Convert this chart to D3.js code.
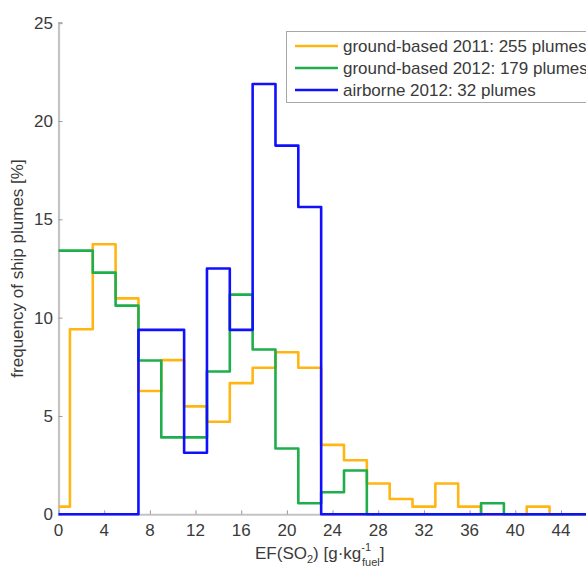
<!DOCTYPE html>
<html>
<head>
<meta charset="utf-8">
<script src="https://cdn.jsdelivr.net/npm/d3@7"></script>
<style>
  html, body { margin: 0; padding: 0; background: #fff; }
  svg { display: block; font-family: "Liberation Sans", Arial, sans-serif; }
</style>
</head>
<body>
<svg id="chart" width="586" height="569"></svg>
<script>
// Histogram bins: 2 g/kg wide, centred on even values (edges at odd values)
const binCenters = [0, 2, 4, 6, 8, 10, 12, 14, 16, 18, 20, 22, 24, 26, 28, 30, 32, 34, 36, 38, 40, 42, 44, 46, 48];

// Frequency of ship plumes [%] per bin
const ground2011 = [0.39, 9.41, 13.73, 10.98, 6.27, 7.84, 5.49, 4.71, 6.67, 7.45, 8.24, 7.45, 3.53, 2.75, 1.57, 0.78, 0.39, 1.57, 0.39, 0, 0, 0.39, 0, 0, 0];
const ground2012 = [13.41, 13.41, 12.29, 10.61, 7.82, 3.91, 3.91, 7.26, 11.17, 8.38, 3.35, 0.56, 1.12, 2.23, 0, 0, 0, 0, 0, 0.56, 0, 0, 0, 0, 0];
const airborne2012 = [0, 0, 0, 0, 9.38, 9.38, 3.13, 12.5, 9.38, 21.88, 18.75, 15.63, 0, 0, 0, 0, 0, 0, 0, 0, 0, 0, 0, 0, 0];

const seriesNames = ["ground-based 2011: 255 plumes", "ground-based 2012: 179 plumes", "airborne 2012: 32 plumes"];
const seriesColors = ["#ffb612", "#1fae4c", "#1010ff"];

const xTicks = [0, 4, 8, 12, 16, 20, 24, 28, 32, 36, 40, 44];
const yTicks = [0, 5, 10, 15, 20, 25];

const binWidth = 2;
const svg = d3.select("#chart");

const plot = { left: 58.5, top: 22.7, bottom: 514.3 };
const x = d3.scaleLinear().domain([0, 50]).range([plot.left, plot.left + 50 * 11.42]);
const y = d3.scaleLinear().domain([0, 25]).range([plot.bottom, plot.top]);

const axisGray = "#c4c4c4";
const textGray = "#3a3a3a";

// clip the histogram outlines to the plotting area
svg.append("defs").append("clipPath").attr("id", "plotClip")
  .append("rect")
  .attr("x", x(0)).attr("y", 0)
  .attr("width", 700).attr("height", plot.bottom + 3);

// y axis (ticks point inward)
const yAxis = d3.axisRight(y).tickValues(yTicks).tickSize(4).tickFormat("");
const yg = svg.append("g").attr("transform", `translate(${x(0)},0)`).call(yAxis);
yg.select(".domain").attr("stroke", axisGray).attr("stroke-width", 2.2);
yg.selectAll(".tick line").attr("stroke", "#9a9a9a").attr("stroke-width", 1);

// x axis (ticks point inward)
const xAxis = d3.axisTop(x).tickValues(xTicks).tickSize(4).tickFormat("");
const xg = svg.append("g").attr("transform", `translate(0,${y(0)})`).call(xAxis);
xg.select(".domain").attr("stroke", axisGray).attr("stroke-width", 2);
xg.selectAll(".tick line").attr("stroke", "#9a9a9a").attr("stroke-width", 1);

// tick labels
svg.append("g").selectAll("text").data(yTicks).join("text")
  .attr("x", 53).attr("y", d => y(d)).attr("dy", "0.35em")
  .attr("text-anchor", "end").attr("font-size", 17).attr("fill", textGray)
  .text(d => d);

svg.append("g").selectAll("text").data(xTicks).join("text")
  .attr("x", d => x(d)).attr("y", 535.5)
  .attr("text-anchor", "middle").attr("font-size", 17).attr("fill", textGray)
  .text(d => d);

// step outlines for each series
const stairs = d3.line().x(d => x(d[0])).y(d => y(d[1])).curve(d3.curveStepAfter);
function stepPoints(values) {
  const pts = binCenters.map((c, i) => [c - binWidth / 2, values[i]]);
  const last = binCenters.length - 1;
  pts.push([binCenters[last] + binWidth / 2, values[last]]);
  return pts;
}

const lines = svg.append("g").attr("clip-path", "url(#plotClip)");
[ground2011, ground2012, airborne2012].forEach((vals, i) => {
  lines.append("path")
    .attr("d", stairs(stepPoints(vals)))
    .attr("fill", "none")
    .attr("stroke", seriesColors[i])
    .attr("stroke-width", 2.6)
    .attr("stroke-linejoin", "round");
});

// axis titles
svg.append("text")
  .attr("transform", `translate(23,${(plot.top + plot.bottom) / 2}) rotate(-90)`)
  .attr("text-anchor", "middle").attr("font-size", 17).attr("fill", textGray)
  .text("frequency of ship plumes [%]");

const xl = svg.append("text")
  .attr("x", 255).attr("y", 559)
  .attr("font-size", 17).attr("fill", textGray);
xl.append("tspan").text("EF(SO");
xl.append("tspan").attr("font-size", 11).attr("dy", 4).text("2");
xl.append("tspan").attr("dy", -4).text(") [g\u00b7kg");
xl.append("tspan").attr("font-size", 11).attr("dy", -8).text("-1");
xl.append("tspan").attr("font-size", 11).attr("dx", -9).attr("dy", 15).text("fuel");
xl.append("tspan").attr("dy", -7).text("]");

// legend
const legend = svg.append("g");
legend.append("rect")
  .attr("x", 286.5).attr("y", 31.5).attr("width", 330).attr("height", 71)
  .attr("fill", "#fff").attr("stroke", "#a8a8a8").attr("stroke-width", 1);
seriesNames.forEach((name, i) => {
  const cy = 46 + i * 22;
  legend.append("line")
    .attr("x1", 295).attr("x2", 338).attr("y1", cy).attr("y2", cy)
    .attr("stroke", seriesColors[i]).attr("stroke-width", 2.6);
  legend.append("text")
    .attr("x", 343).attr("y", cy).attr("dy", "0.35em")
    .attr("font-size", 17).attr("fill", textGray)
    .text(name);
});
</script>
</body>
</html>
